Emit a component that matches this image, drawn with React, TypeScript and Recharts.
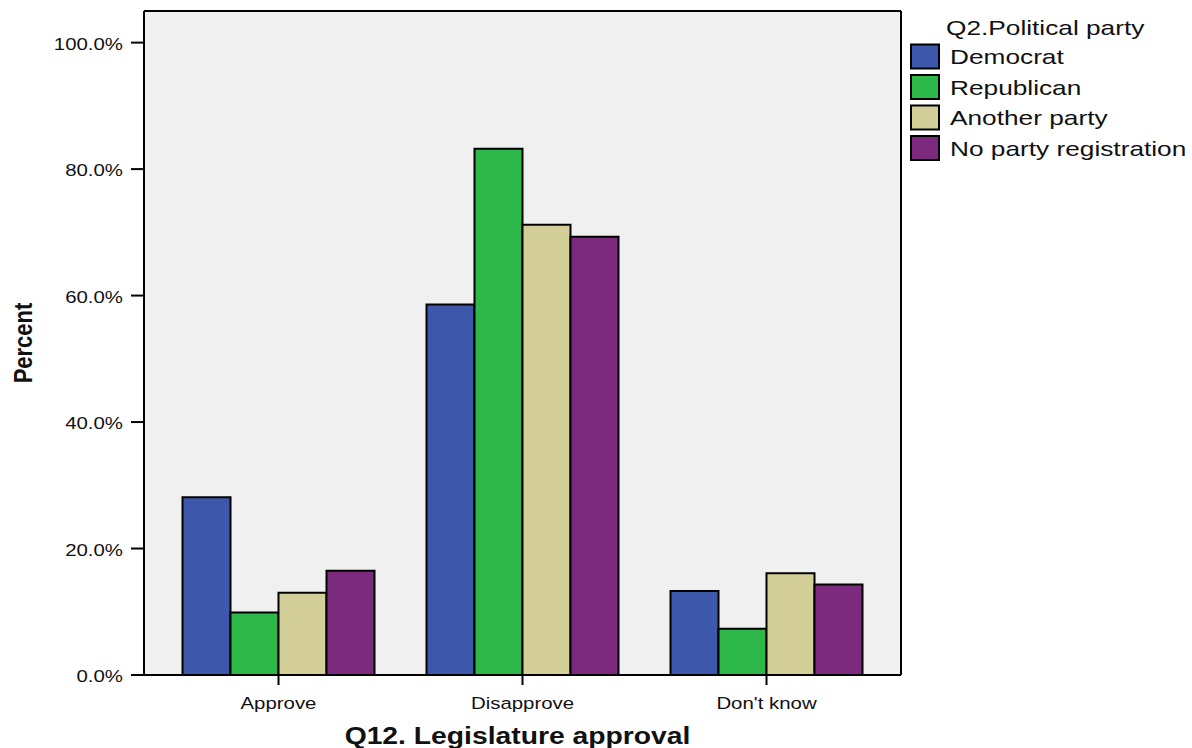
import React from 'react';
import { BarChart, Bar, XAxis, YAxis, CartesianGrid, Legend } from 'recharts';

const categories = ['Approve', 'Disapprove', "Don't know"];
const democrat = [28.1, 58.6, 13.3];
const republican = [9.9, 83.2, 7.3];
const anotherParty = [13.0, 71.2, 16.1];
const noParty = [16.5, 69.3, 14.3];
const yTicks = [0, 20, 40, 60, 80, 100];

const seriesKeys = ['democrat', 'republican', 'another', 'noparty'];
const seriesNames = ['Democrat', 'Republican', 'Another party', 'No party registration'];
const seriesColors = ['#3D58AB', '#2FB84A', '#D4CF98', '#7C2A7D'];
const seriesValues = [democrat, republican, anotherParty, noParty];

const legendTitle = 'Q2.Political party';
const xTitle = 'Q12. Legislature approval';
const yTitle = 'Percent';

const data = categories.map((cat, i) => {
  const row: Record<string, any> = { cat };
  seriesKeys.forEach((k, s) => {
    row[k] = seriesValues[s][i];
  });
  return row;
});

const FONT = '"Liberation Sans", Arial, sans-serif';
const S = 1.2;

const YTick = (props: any) => {
  const { x, y, payload } = props;
  return (
    <text
      transform={`translate(${x},${y + 7}) scale(${S},1)`}
      textAnchor="end"
      fontFamily={FONT}
      fontSize={17}
      fill="#111"
    >
      {`${Number(payload.value).toFixed(1)}%`}
    </text>
  );
};

const XTick = (props: any) => {
  const { x, y, payload } = props;
  return (
    <text
      transform={`translate(${x},${y + 22}) scale(${S},1)`}
      textAnchor="middle"
      fontFamily={FONT}
      fontSize={17}
      fill="#111"
    >
      {payload.value}
    </text>
  );
};

const XLabel = (props: any) => {
  const vb = props.viewBox || {};
  const cx = vb.x + vb.width / 2 - 5;
  return (
    <text
      transform={`translate(${cx},${vb.y + 69}) scale(1.23,1)`}
      textAnchor="middle"
      fontFamily={FONT}
      fontSize={23}
      fontWeight="bold"
      fill="#111"
    >
      {xTitle}
    </text>
  );
};

const YLabel = (props: any) => {
  const vb = props.viewBox || {};
  const cy = vb.y + vb.height / 2;
  return (
    <text
      transform={`translate(${vb.x + 32},${cy}) scale(1.15,1) rotate(-90)`}
      textAnchor="middle"
      fontFamily={FONT}
      fontSize={22}
      fontWeight="bold"
      fill="#111"
    >
      {yTitle}
    </text>
  );
};

const LS = 1.25;

const LegendContent = () => {
  return (
    <svg width={290} height={170} style={{ display: 'block' }}>
      <text
        transform={`translate(46,35) scale(${LS},1)`}
        fontFamily={FONT}
        fontSize={21}
        fill="#111"
      >
        {legendTitle}
      </text>
      {seriesNames.map((name, i) => {
        const cy = 56.5 + 30.5 * i;
        return (
          <g key={name}>
            <rect x={11} y={cy - 12} width={28} height={24} fill={seriesColors[i]} stroke="#000" strokeWidth={2} />
            <text
              transform={`translate(50,${cy + 7.5}) scale(${LS},1)`}
              fontFamily={FONT}
              fontSize={21}
              fill="#111"
            >
              {name}
            </text>
          </g>
        );
      })}
    </svg>
  );
};

export default function App() {
  return (
    <div style={{ position: 'absolute', left: 0, top: 0, width: 1192, height: 748, background: '#fff' }}>
      <BarChart
        width={1192}
        height={748}
        data={data}
        margin={{ top: 11, right: 291, bottom: 0, left: 0 }}
        barGap={0}
      >
        <CartesianGrid
          fill="#F0F0F0"
          stroke="#000"
          strokeWidth={2}
          horizontalCoordinatesGenerator={(p: any) => [p.offset.top]}
          verticalCoordinatesGenerator={(p: any) => [p.offset.left + p.offset.width]}
        />
        {seriesKeys.map((k, s) => (
          <Bar
            key={k}
            dataKey={k}
            name={seriesNames[s]}
            fill={seriesColors[s]}
            stroke="#000"
            strokeWidth={2}
            barSize={48}
            isAnimationActive={false}
          />
        ))}
        <XAxis
          dataKey="cat"
          interval={0}
          padding={{ left: 12.5, right: 12.5 }}
          height={73}
          tickSize={10}
          tickMargin={2}
          axisLine={{ stroke: '#000', strokeWidth: 2 }}
          tickLine={{ stroke: '#000', strokeWidth: 2 }}
          tick={<XTick />}
          label={<XLabel />}
        />
        <YAxis
          type="number"
          domain={[0, 105]}
          ticks={yTicks}
          width={144}
          tickSize={13}
          tickMargin={8}
          axisLine={{ stroke: '#000', strokeWidth: 2 }}
          tickLine={{ stroke: '#000', strokeWidth: 2 }}
          tick={<YTick />}
          label={<YLabel />}
        />
        <Legend
          layout="vertical"
          align="center"
          verticalAlign="middle"
          content={<LegendContent />}
          wrapperStyle={{ position: 'absolute', left: 900, top: 0, width: 290, height: 170 }}
        />
      </BarChart>
    </div>
  );
}
